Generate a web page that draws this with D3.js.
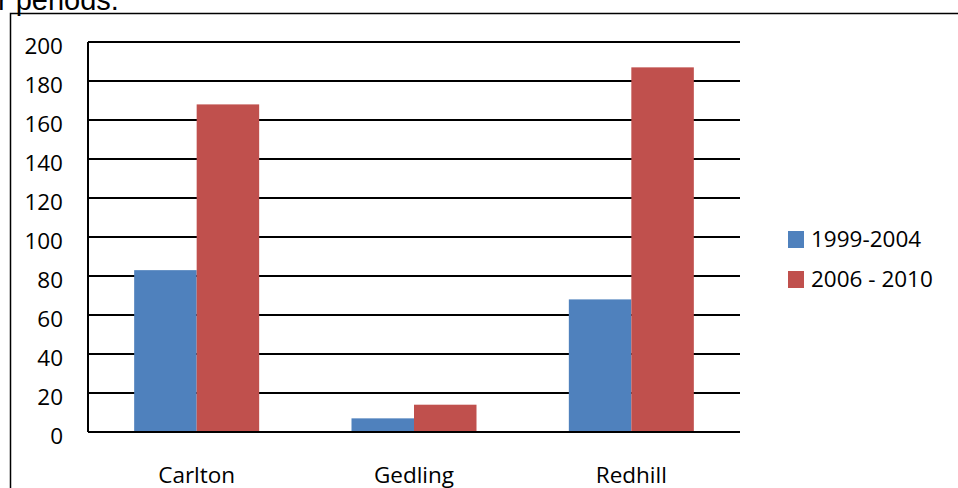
<!DOCTYPE html>
<html>
<head>
<meta charset="utf-8">
<script src="https://cdn.jsdelivr.net/npm/d3@7"></script>
<style>
  body { margin: 0; background: #fff; }
  svg { display: block; }
  text { font-family: "Open Sans", sans-serif; fill: #000; }
</style>
</head>
<body>
<svg width="958" height="488"></svg>
<script>
const categories = ["Carlton", "Gedling", "Redhill"]
const seriesNames = ["1999-2004", "2006 - 2010"]
const series1 = [83, 7, 68]
const series2 = [168, 14, 187]
const yTicks = [0, 20, 40, 60, 80, 100, 120, 140, 160, 180, 200]
const colors = ["#4f81bd", "#c0504d"]

const svg = d3.select('svg')

// clipped caption above the frame
svg.append('text')
    .attr('x', -2)
    .attr('y', 10)
    .style('font-family', '"Liberation Sans", Arial, sans-serif')
    .style('font-size', '29px')
    .text('r periods.')

// outer frame (left and top edges visible)
svg.append('path')
    .attr('d', 'M10.5,500 V13.5 H960')
    .attr('fill', 'none')
    .attr('stroke', '#000')
    .attr('stroke-width', 1.5)

const plotL = 88, plotR = 740, plotT = 42, plotB = 432

const x = d3.scaleBand()
    .domain(categories)
    .range([plotL, plotR])

const y = d3.scaleLinear()
    .domain([0, 200])
    .range([plotB, plotT])

// gridlines
svg.append('g')
    .selectAll('line')
    .data(yTicks)
    .enter().append('line')
    .attr('x1', plotL)
    .attr('x2', plotR)
    .attr('y1', d => y(d))
    .attr('y2', d => y(d))
    .attr('stroke', '#000')
    .attr('stroke-width', 1.8)

// bars
const barW = 62.5
const data = categories.map((c, i) => ({ cat: c, vals: [series1[i], series2[i]] }))

const groups = svg.append('g')
    .selectAll('g')
    .data(data)
    .enter().append('g')
    .attr('transform', d => `translate(${x(d.cat) + x.bandwidth() / 2}, 0)`)

groups.selectAll('rect')
    .data(d => d.vals)
    .enter().append('rect')
    .attr('x', (d, i) => (i - 1) * barW)
    .attr('width', barW)
    .attr('y', d => y(d))
    .attr('height', d => y(0) - y(d))
    .attr('fill', (d, i) => colors[i])

// axes lines
svg.append('line')
    .attr('x1', plotL).attr('x2', plotL)
    .attr('y1', plotT).attr('y2', plotB)
    .attr('stroke', '#000').attr('stroke-width', 2)
svg.append('line')
    .attr('x1', plotL).attr('x2', plotR)
    .attr('y1', plotB).attr('y2', plotB)
    .attr('stroke', '#000').attr('stroke-width', 2)

// y tick labels
svg.append('g')
    .selectAll('text')
    .data(yTicks)
    .enter().append('text')
    .attr('x', 63)
    .attr('y', d => y(d) + 12)
    .attr('text-anchor', 'end')
    .style('font-size', '22.5px')
    .text(d => d)

// category labels
svg.append('g')
    .selectAll('text')
    .data(categories)
    .enter().append('text')
    .attr('x', d => x(d) + x.bandwidth() / 2)
    .attr('y', 483)
    .attr('text-anchor', 'middle')
    .style('font-size', '22.5px')
    .text(d => d)

// legend
const legend = svg.append('g')
    .selectAll('g')
    .data(seriesNames)
    .enter().append('g')
    .attr('transform', (d, i) => `translate(788, ${231 + i * 40})`)

legend.append('rect')
    .attr('width', 16)
    .attr('height', 17)
    .attr('fill', (d, i) => colors[i])

legend.append('text')
    .attr('x', 23)
    .attr('y', 16)
    .style('font-size', '22.5px')
    .text(d => d)
</script>
</body>
</html>
